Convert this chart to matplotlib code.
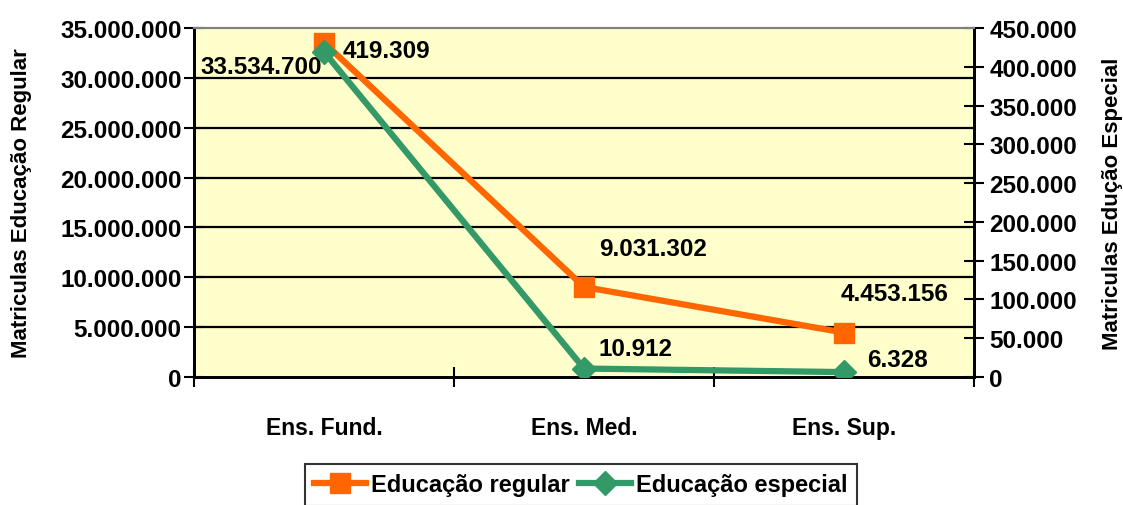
import matplotlib
matplotlib.use("Agg")
import matplotlib.pyplot as plt
from matplotlib.ticker import FuncFormatter, FixedLocator

plt.rcParams['font.family'] = ['Liberation Sans', 'DejaVu Sans']
plt.rcParams['font.weight'] = 'bold'

categories = ["Ens. Fund.", "Ens. Med.", "Ens. Sup."]
regular = [33534700, 9031302, 4453156]
especial = [419309, 10912, 6328]
left_ticks = [0, 5000000, 10000000, 15000000, 20000000, 25000000, 30000000, 35000000]
right_ticks = [0, 50000, 100000, 150000, 200000, 250000, 300000, 350000, 400000, 450000]

ORANGE = "#FF6600"
GREEN = "#339966"
FS = 17.5


def br(v, pos=None):
    return f"{int(v):,}".replace(",", ".")


fig = plt.figure(figsize=(11.23, 5.06), dpi=100)
ax = fig.add_axes([194 / 1123, 1 - 378 / 506, 780 / 1123, 349 / 506])
ax.set_facecolor("#FFFFCC")
x = list(range(len(categories)))

ax.set_xlim(-0.5, len(categories) - 0.5)
ax.set_ylim(left_ticks[0], left_ticks[-1])
ax.yaxis.set_major_locator(FixedLocator(left_ticks))
ax.yaxis.set_major_formatter(FuncFormatter(br))
for v in left_ticks[1:-1]:
    ax.axhline(v, color="black", lw=1.6, zorder=1)

ax.plot(x, regular, color=ORANGE, lw=4.5, marker="s", ms=14, zorder=3,
        label="Educação regular")

ax2 = ax.twinx()
ax2.set_ylim(right_ticks[0], right_ticks[-1])
ax2.yaxis.set_major_locator(FixedLocator(right_ticks))
ax2.yaxis.set_major_formatter(FuncFormatter(br))
ax2.plot(x, especial, color=GREEN, lw=4.5, marker="D", ms=12, zorder=3,
         label="Educação especial")

# x axis: category labels, tick marks between categories
ax.set_xticks(x)
ax.set_xticklabels(categories, fontsize=16.5, fontweight="bold")
ax.tick_params(axis="x", which="major", length=0, pad=28)
ax.set_xticks([i - 0.5 for i in range(len(categories) + 1)], minor=True)
ax.tick_params(axis="x", which="minor", direction="inout", length=14, width=1.5)

ax.tick_params(axis="y", direction="inout", length=14, width=1.5, labelsize=FS, pad=2)
ax2.tick_params(axis="y", direction="inout", length=14, width=1.5, labelsize=FS, pad=4)
for lab in ax.get_yticklabels() + ax2.get_yticklabels():
    lab.set_fontweight("bold")

for a in (ax, ax2):
    a.spines["left"].set_linewidth(2)
    a.spines["right"].set_linewidth(2)
    a.spines["bottom"].set_linewidth(2)
    a.spines["top"].set_color("#808080")
    a.spines["top"].set_linewidth(1.5)

ax.set_ylabel("Matriculas Educação Regular", fontsize=16, fontweight="bold", labelpad=20)
ax2.set_ylabel("Matriculas Edução Especial", fontsize=16, fontweight="bold", labelpad=18)

# value labels
reg_offsets = [(-2, -24, "right"), (15, 38, "left"), (-3, 39, "left")]
esp_offsets = [(19, 1, "left"), (15, 20, "left"), (23, 13, "left")]
for xi, v, (dx, dy, ha) in zip(x, regular, reg_offsets):
    ax.annotate(br(v), (xi, v), xytext=(dx, dy), textcoords="offset pixels",
                ha=ha, va="center", fontsize=FS, fontweight="bold", zorder=5)
for xi, v, (dx, dy, ha) in zip(x, especial, esp_offsets):
    ax2.annotate(br(v), (xi, v), xytext=(dx, dy), textcoords="offset pixels",
                 ha=ha, va="center", fontsize=FS, fontweight="bold", zorder=5)

h1, l1 = ax.get_legend_handles_labels()
h2, l2 = ax2.get_legend_handles_labels()
leg = fig.legend(h1 + h2, l1 + l2, loc="upper center", ncol=2,
                 bbox_to_anchor=(581 / 1123, 1 - 465 / 506),
                 frameon=True, fancybox=False, edgecolor="black",
                 fontsize=17, handlelength=2.2, handletextpad=0.2,
                 columnspacing=0.4, borderpad=0.4, borderaxespad=0)
leg.get_frame().set_linewidth(1.5)
for t in leg.get_texts():
    t.set_fontweight("bold")

fig.savefig("out.png", dpi=100)
